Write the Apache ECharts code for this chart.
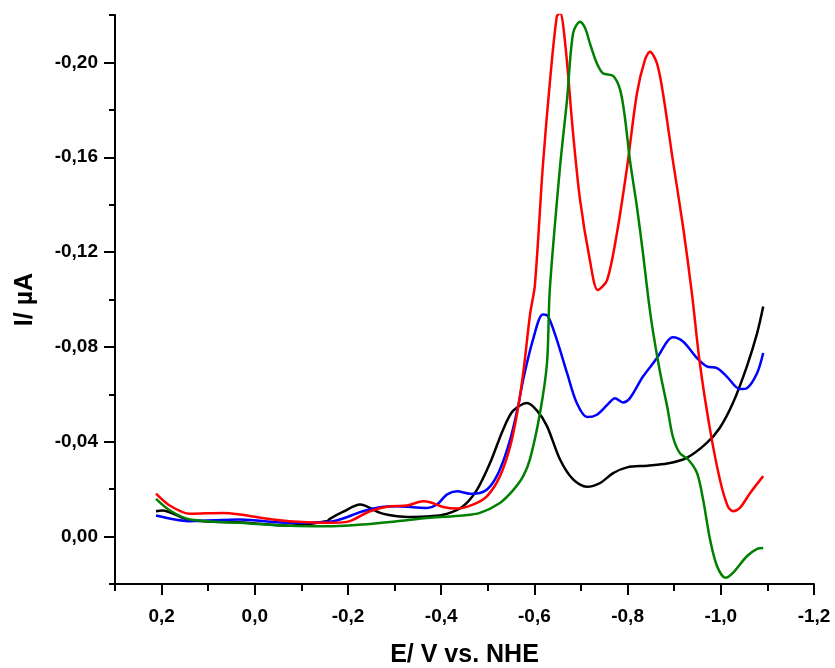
<!DOCTYPE html>
<html>
<head>
<meta charset="utf-8">
<script src="https://cdn.jsdelivr.net/npm/echarts@6/dist/echarts.min.js"></script>
<style>
html,body{margin:0;padding:0;background:#fff;}
#c{width:835px;height:668px;}
</style>
</head>
<body>
<div id="c"></div>
<script>
// ---- Data (E in V vs NHE, I in µA) ----
const blackE = [0.212,0.199,0.139,0.032,-0.0755,-0.155,-0.161,-0.19,-0.226,-0.269,-0.305,-0.339,-0.376,-0.412,-0.447,-0.477,-0.505,-0.533,-0.554,-0.584,-0.606,-0.627,-0.655,-0.683,-0.713,-0.741,-0.769,-0.799,-0.842,-0.885,-0.927,-0.970,-0.998,-1.026,-1.056,-1.078,-1.091];
const blackI = [-0.0107,-0.0110,-0.0069,-0.0060,-0.0046,-0.0065,-0.0075,-0.0105,-0.0135,-0.0100,-0.0086,-0.0083,-0.0086,-0.0096,-0.0128,-0.0198,-0.0311,-0.0452,-0.0530,-0.0563,-0.0530,-0.0466,-0.0325,-0.0241,-0.0210,-0.0226,-0.0268,-0.0292,-0.0299,-0.0308,-0.0332,-0.0395,-0.0459,-0.0563,-0.0718,-0.0858,-0.0970];

const blueE = [0.212,0.139,0.032,-0.0755,-0.168,-0.232,-0.269,-0.305,-0.339,-0.370,-0.391,-0.412,-0.434,-0.462,-0.483,-0.505,-0.526,-0.548,-0.565,-0.576,-0.597,-0.618,-0.629,-0.648,-0.670,-0.691,-0.713,-0.734,-0.756,-0.773,-0.790,-0.805,-0.833,-0.863,-0.885,-0.897,-0.919,-0.949,-0.970,-0.992,-1.013,-1.041,-1.056,-1.078,-1.091];
const blueI = [-0.0089,-0.0065,-0.0072,-0.0058,-0.0065,-0.0107,-0.0124,-0.0128,-0.0124,-0.0121,-0.0135,-0.0177,-0.0191,-0.0181,-0.0184,-0.0212,-0.0283,-0.0409,-0.0550,-0.0663,-0.0831,-0.0937,-0.0930,-0.0831,-0.0690,-0.0563,-0.0504,-0.0514,-0.0555,-0.0584,-0.0566,-0.0584,-0.0675,-0.0753,-0.0823,-0.0841,-0.0823,-0.0753,-0.0718,-0.0711,-0.0675,-0.0622,-0.0626,-0.0690,-0.0774];

const redE = [0.212,0.182,0.139,0.068,0.032,-0.039,-0.112,-0.168,-0.204,-0.247,-0.290,-0.327,-0.361,-0.376,-0.404,-0.434,-0.468,-0.498,-0.526,-0.548,-0.563,-0.576,-0.591,-0.601,-0.618,-0.633,-0.648,-0.655,-0.666,-0.683,-0.698,-0.719,-0.736,-0.756,-0.777,-0.799,-0.820,-0.837,-0.848,-0.863,-0.876,-0.897,-0.919,-0.938,-0.955,-0.977,-0.998,-1.015,-1.026,-1.041,-1.063,-1.091];
const redI = [-0.0181,-0.0130,-0.0096,-0.0100,-0.0093,-0.0072,-0.0060,-0.0058,-0.0065,-0.0107,-0.0128,-0.0131,-0.0149,-0.0145,-0.0125,-0.0118,-0.0135,-0.0170,-0.0254,-0.0380,-0.0521,-0.0690,-0.0942,-0.1060,-0.1560,-0.1912,-0.2193,-0.2210,-0.2081,-0.1701,-0.1420,-0.1167,-0.1040,-0.1082,-0.1279,-0.1560,-0.1869,-0.2010,-0.2045,-0.1996,-0.1869,-0.1588,-0.1307,-0.1026,-0.0731,-0.0450,-0.0241,-0.0128,-0.0107,-0.0121,-0.0184,-0.0255];

const greenE = [0.212,0.182,0.139,0.032,-0.0755,-0.168,-0.232,-0.305,-0.376,-0.447,-0.483,-0.526,-0.554,-0.576,-0.591,-0.612,-0.627,-0.633,-0.655,-0.670,-0.683,-0.698,-0.709,-0.719,-0.734,-0.747,-0.769,-0.784,-0.794,-0.805,-0.820,-0.833,-0.844,-0.854,-0.870,-0.885,-0.897,-0.912,-0.930,-0.949,-0.962,-0.977,-0.992,-1.010,-1.026,-1.056,-1.078,-1.091];
const greenI = [-0.0159,-0.0110,-0.0072,-0.0058,-0.0046,-0.0044,-0.0051,-0.0065,-0.0079,-0.0089,-0.0100,-0.0142,-0.0195,-0.0255,-0.0330,-0.0521,-0.0731,-0.1040,-0.1560,-0.1842,-0.2123,-0.2172,-0.2144,-0.2081,-0.1996,-0.1954,-0.1943,-0.1884,-0.1771,-0.1588,-0.1391,-0.1195,-0.1012,-0.0871,-0.0690,-0.0548,-0.0422,-0.0352,-0.0325,-0.0268,-0.0156,0.0013,0.0125,0.0174,0.0153,0.0083,0.0052,0.0048];

// ---- Axis ticks ----
const xMajorTicks = [0.2, 0.0, -0.2, -0.4, -0.6, -0.8, -1.0, -1.2];
const xMinorTicks = [0.3, 0.1, -0.1, -0.3, -0.5, -0.7, -0.9, -1.1];
const yMajorTicks = [-0.20, -0.16, -0.12, -0.08, -0.04, 0.00];
const yMinorTicks = [-0.22, -0.18, -0.14, -0.10, -0.06, -0.02, 0.02];

const xTitle = 'E/ V vs. NHE';
const yTitle = 'I/ µA';

function zip(a, b) { return a.map((v, i) => [v, b[i]]); }

const FONT = '"Liberation Sans", Arial, sans-serif';
const fmtX = v => (Math.abs(v) < 1e-9 ? 0 : v).toFixed(1).replace('.', ',');
const fmtY = v => (Math.abs(v) < 1e-9 ? 0 : v).toFixed(2).replace('.', ',');

const axisLine = { show: true, onZero: false, lineStyle: { color: '#000', width: 2 } };
const noLine = { show: false, onZero: false };

const chart = echarts.init(document.getElementById('c'), null, { renderer: 'canvas' });
chart.setOption({
  animation: false,
  backgroundColor: '#fff',
  grid: { left: 115, right: 21, top: 15, bottom: 84, containLabel: false, outerBoundsMode: 'none' },
  xAxis: [
    {
      type: 'value', min: -1.2, max: 0.3, inverse: true,
      axisLine: axisLine,
      splitLine: { show: false },
      axisTick: { show: true, inside: false, length: 11, customValues: xMajorTicks, lineStyle: { color: '#000', width: 2 } },
      axisLabel: { show: true, customValues: xMajorTicks, formatter: fmtX, margin: 23,
        fontFamily: FONT, fontWeight: 'bold', fontSize: 19, color: '#000' },
      name: xTitle, nameLocation: 'middle', nameGap: 59,
      nameTextStyle: { fontFamily: FONT, fontWeight: 'bold', fontSize: 25, color: '#000' }
    },
    {
      type: 'value', min: -1.2, max: 0.3, inverse: true, position: 'bottom', offset: 0,
      axisLine: noLine,
      splitLine: { show: false },
      axisTick: { show: true, inside: false, length: 7, customValues: xMinorTicks, lineStyle: { color: '#000', width: 2 } },
      axisLabel: { show: false }
    }
  ],
  yAxis: [
    {
      type: 'value', min: -0.22, max: 0.02, inverse: true,
      axisLine: axisLine,
      splitLine: { show: false },
      axisTick: { show: true, inside: false, length: 11, customValues: yMajorTicks, lineStyle: { color: '#000', width: 2 } },
      axisLabel: { show: true, customValues: yMajorTicks, formatter: fmtY, margin: 17,
        fontFamily: FONT, fontWeight: 'bold', fontSize: 19, color: '#000' },
      name: yTitle, nameLocation: 'middle', nameGap: 77, nameRotate: 90,
      nameTextStyle: { fontFamily: FONT, fontWeight: 'bold', fontSize: 25, color: '#000' }
    },
    {
      type: 'value', min: -0.22, max: 0.02, inverse: true, position: 'left', offset: 0,
      axisLine: noLine,
      splitLine: { show: false },
      axisTick: { show: true, inside: false, length: 6, customValues: yMinorTicks, lineStyle: { color: '#000', width: 2 } },
      axisLabel: { show: false }
    }
  ],
  series: [
    { name: 'black', type: 'line', data: zip(blackE, blackI), smooth: 0.3, showSymbol: false, clip: true,
      lineStyle: { color: '#000000', width: 2.5 } },
    { name: 'blue', type: 'line', data: zip(blueE, blueI), smooth: 0.3, showSymbol: false, clip: true,
      lineStyle: { color: '#0000ff', width: 2.5 } },
    { name: 'red', type: 'line', data: zip(redE, redI), smooth: 0.3, showSymbol: false, clip: true,
      lineStyle: { color: '#ff0000', width: 2.5 } },
    { name: 'green', type: 'line', data: zip(greenE, greenI), smooth: 0.3, showSymbol: false, clip: true,
      lineStyle: { color: '#008000', width: 2.5 } }
  ]
});
</script>
</body>
</html>
